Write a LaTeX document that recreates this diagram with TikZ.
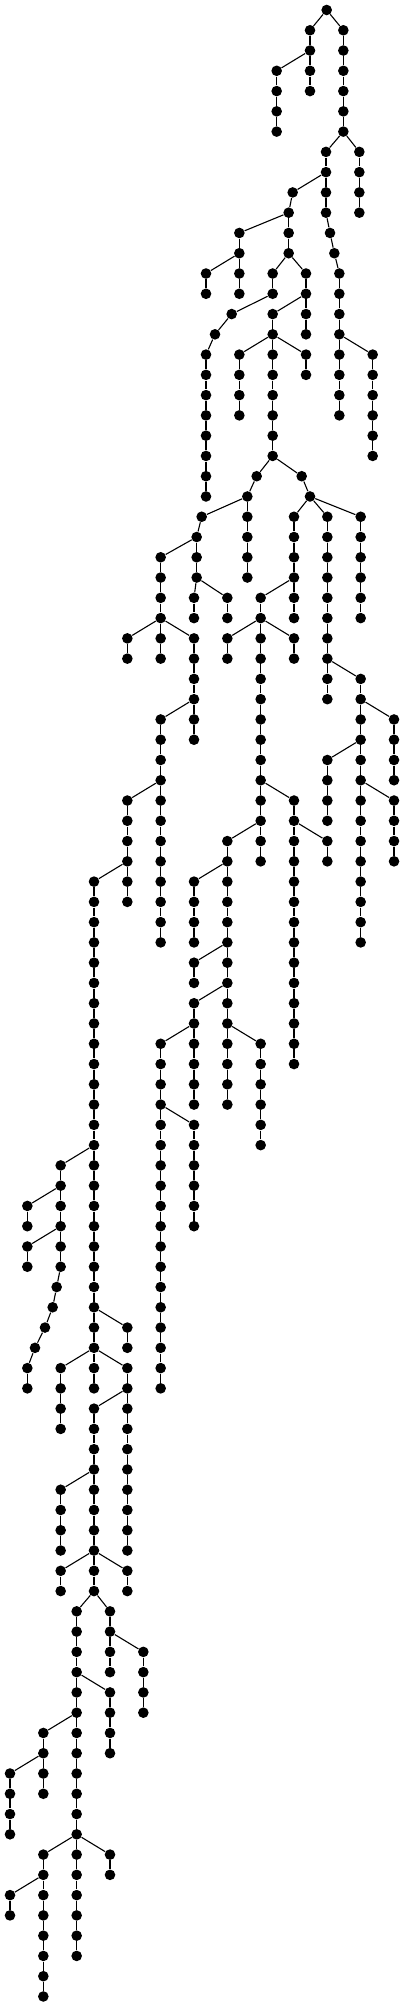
\documentclass[tikz,border=0pt]{standalone}
\tikzset{
  dotn/.style={circle,fill=black,inner sep=0pt,minimum size=5.3pt},
  lnk/.style={line width=0.55pt,black}
}
\newcommand\trchain[4]{%
  \foreach \l in {#3,...,#4}{\node[dotn] (#1-\l) at (#2,\l) {};}%
  \ifnum#3<#4\relax
    \pgfmathtruncatemacro\trs{#3+1}%
    \foreach \l [remember=\l as \p (initially #3)] in {\trs,...,#4}{\draw[lnk] (#1-\p) -- (#1-\l);}%
  \fi}
\begin{document}
\begin{tikzpicture}[x=0.1666667pt,y=-10.135pt]
\useasboundingbox (0,-0.49334) rectangle (1212,98.4707);
\trchain{A}{980}{0}{0}
\trchain{B}{930}{1}{4}
\trchain{C}{830}{3}{6}
\trchain{D}{1030}{1}{6}
\trchain{E}{978}{7}{10}
\trchain{F}{1078}{7}{10}
\trchain{G}{878}{9}{9}
\trchain{H}{866}{10}{12}
\trchain{I}{718}{11}{14}
\trchain{J}{618}{13}{14}
\trchain{K}{990}{11}{11}
\trchain{L}{1003}{12}{12}
\trchain{M}{1018}{13}{20}
\trchain{N}{1118}{17}{22}
\trchain{O}{818}{13}{14}
\trchain{P}{918}{13}{16}
\trchain{Q}{695}{15}{15}
\trchain{R}{645}{16}{16}
\trchain{S}{618}{17}{24}
\trchain{T}{818}{15}{22}
\trchain{U}{718}{17}{20}
\trchain{V}{918}{17}{18}
\trchain{W}{770}{23}{23}
\trchain{X}{742}{24}{28}
\trchain{Y}{605}{25}{25}
\trchain{Z}{590}{26}{28}
\trchain{AA}{482}{27}{32}
\trchain{AB}{582}{29}{30}
\trchain{AC}{682}{29}{30}
\trchain{AD}{382}{31}{32}
\trchain{AE}{582}{31}{36}
\trchain{AF}{482}{35}{46}
\trchain{AG}{382}{39}{44}
\trchain{AH}{282}{43}{68}
\trchain{AJ}{905}{23}{23}
\trchain{AK}{930}{24}{24}
\trchain{AL}{882}{25}{30}
\trchain{AM}{982}{25}{34}
\trchain{AN}{1082}{25}{30}
\trchain{AO}{782}{29}{42}
\trchain{AP}{682}{31}{32}
\trchain{AQ}{882}{31}{32}
\trchain{AR}{1082}{33}{46}
\trchain{AS}{1182}{35}{38}
\trchain{AT}{982}{37}{40}
\trchain{AU}{1182}{39}{42}
\trchain{AV}{882}{39}{52}
\trchain{AW}{982}{41}{42}
\trchain{AI}{682}{41}{54}
\trchain{AX}{582}{43}{46}
\trchain{AY}{582}{47}{48}
\trchain{AZ}{582}{49}{54}
\trchain{BA}{482}{51}{68}
\trchain{BB}{582}{55}{60}
\trchain{BC}{782}{51}{56}
\trchain{BD}{182}{57}{62}
\trchain{BE}{82}{59}{60}
\trchain{BF}{82}{61}{62}
\trchain{BG}{170}{63}{63}
\trchain{BH}{158}{64}{64}
\trchain{BI}{135}{65}{65}
\trchain{BJ}{105}{66}{66}
\trchain{BK}{82}{67}{68}
\trchain{BL}{382}{65}{66}
\trchain{BM}{182}{67}{70}
\trchain{BN}{382}{67}{76}
\trchain{BO}{282}{69}{78}
\trchain{BP}{182}{73}{76}
\trchain{BQ}{182}{77}{78}
\trchain{BR}{382}{77}{78}
\trchain{BS}{230}{79}{96}
\trchain{BT}{330}{79}{82}
\trchain{BU}{430}{81}{84}
\trchain{BV}{330}{83}{86}
\trchain{BW}{130}{85}{88}
\trchain{BX}{30}{87}{90}
\trchain{BY}{130}{91}{98}
\trchain{BZ}{330}{91}{92}
\trchain{CA}{30}{93}{94}
\foreach \a/\b in {A-0/B-1, A-0/D-1, B-2/C-3, D-6/E-7, D-6/F-7, E-8/G-9, G-9/H-10,
  E-10/K-11, K-11/L-12, L-12/M-13, H-10/I-11, I-12/J-13, H-12/O-13, H-12/P-13,
  O-14/Q-15, P-14/T-15, Q-15/R-16, R-16/S-17, M-16/N-17, T-16/U-17, T-16/V-17,
  T-22/W-23, T-22/AJ-23, W-23/X-24, X-24/Y-25, Y-25/Z-26, Z-26/AA-27, Z-28/AB-29,
  Z-28/AC-29, AA-30/AD-31, AA-30/AE-31, AE-34/AF-35, AF-38/AG-39, AG-42/AH-43,
  AJ-23/AK-24, AK-24/AL-25, AK-24/AM-25, AK-24/AN-25, AL-28/AO-29, AO-30/AP-31,
  AO-30/AQ-31, AM-32/AR-33, AR-34/AS-35, AR-36/AT-37, AR-38/AU-39, AO-38/AV-39,
  AV-40/AW-41, AO-40/AI-41, AI-42/AX-43, AI-46/AY-47, AI-48/AZ-49, AZ-50/BA-51,
  BA-54/BB-55, AI-50/BC-51, AH-56/BD-57, BD-58/BE-59, BD-60/BF-61, BD-62/BG-63,
  BG-63/BH-64, BH-64/BI-65, BI-65/BJ-66, BJ-66/BK-67, AH-64/BL-65, AH-66/BM-67,
  AH-66/BN-67, BN-68/BO-69, BO-72/BP-73, BO-76/BQ-77, BO-76/BR-77, BO-78/BS-79,
  BO-78/BT-79, BT-80/BU-81, BS-82/BV-83, BS-84/BW-85, BW-86/BX-87, BS-90/BY-91,
  BS-90/BZ-91, BY-92/CA-93}
  {\draw[lnk] (\a) -- (\b);}
\end{tikzpicture}
\end{document}
